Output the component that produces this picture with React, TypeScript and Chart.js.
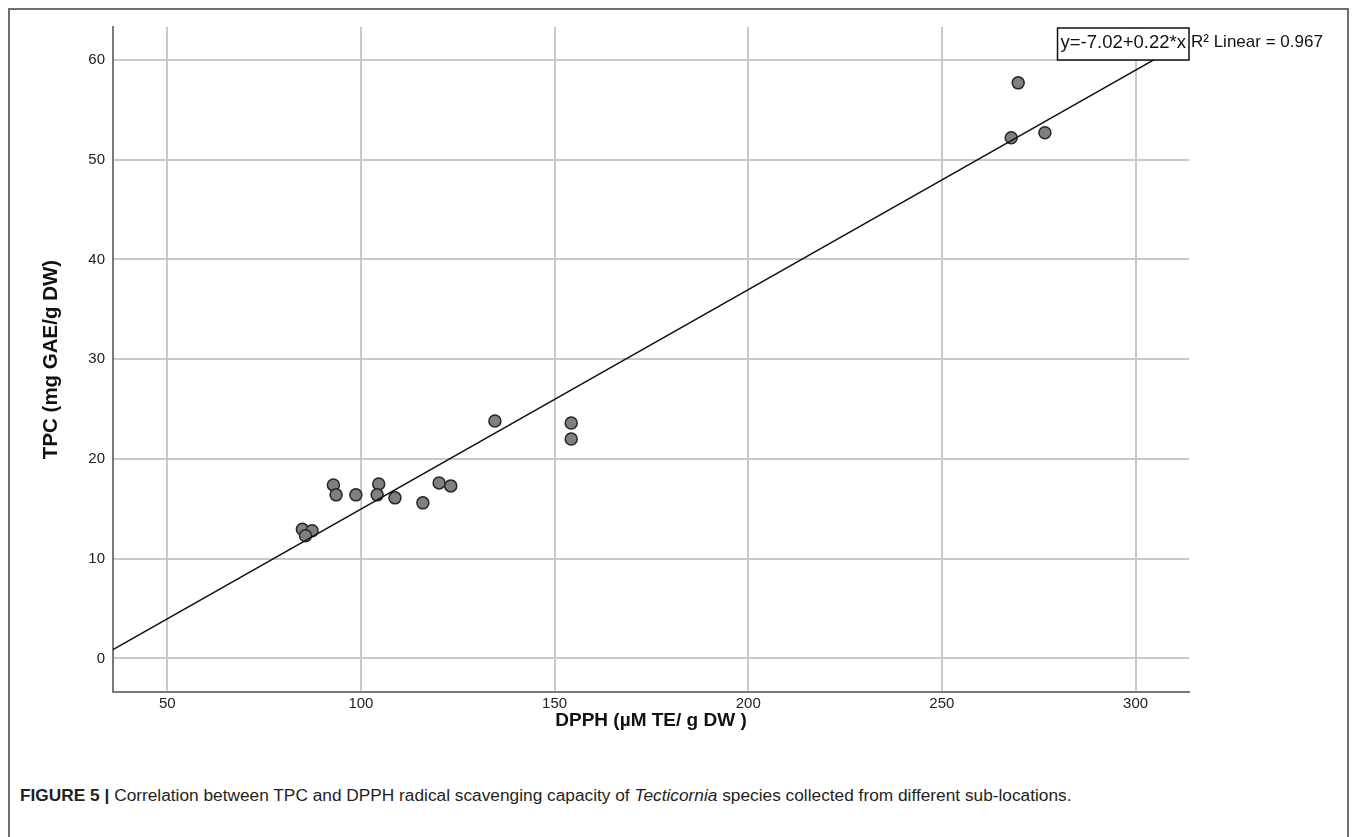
import React, { useEffect, useRef } from "react";
import { Chart, registerables } from "chart.js";

Chart.register(...registerables);

// ---- data ----
const dpphValues = [84.9, 87.4, 85.7, 92.9, 93.6, 98.7, 104.6, 104.2, 108.8, 116.0, 120.2, 123.2, 134.6, 154.3, 154.3, 269.7, 267.9, 276.6];
const tpcValues = [12.95, 12.8, 12.3, 17.4, 16.4, 16.4, 17.5, 16.4, 16.1, 15.6, 17.6, 17.3, 23.8, 23.6, 22.0, 57.7, 52.2, 52.7];
const fitIntercept = -7.02;
const fitSlope = 0.22;
const fitRSquared = 0.967;
const xTickValues = [50, 100, 150, 200, 250, 300];
const yTickValues = [0, 10, 20, 30, 40, 50, 60];
const xRange = [36, 313.8];
const yRange = [-3.36, 63.3];
const xTitle = "DPPH (µM TE/ g DW )";
const yTitle = "TPC (mg GAE/g DW)";

const FONT = '"Liberation Sans", Arial, Helvetica, sans-serif';

const equationBox = {
  id: "equationBox",
  afterDatasetsDraw(chart: any) {
    const { ctx, chartArea } = chart;
    ctx.save();
    const eq = `y=${fitIntercept.toFixed(2)}+${fitSlope.toFixed(2)}*x`;
    ctx.font = `18.5px ${FONT}`;
    const tw = ctx.measureText(eq).width;
    const w = tw + 6;
    const h = 32;
    const bx = chartArea.right - w;
    const by = chartArea.top + 1;
    ctx.fillStyle = "#ffffff";
    ctx.fillRect(bx, by, w, h);
    ctx.strokeStyle = "#111111";
    ctx.lineWidth = 1.5;
    ctx.strokeRect(bx, by, w, h);
    ctx.fillStyle = "#111111";
    ctx.textBaseline = "alphabetic";
    ctx.textAlign = "left";
    ctx.fillText(eq, bx + 3, by + 20);
    ctx.font = `17px ${FONT}`;
    ctx.fillText(`R² Linear = ${fitRSquared.toFixed(3)}`, chartArea.right + 2, by + 19);
    ctx.restore();
  },
};

export default function App() {
  const canvasRef = useRef<HTMLCanvasElement | null>(null);

  useEffect(() => {
    const canvas = canvasRef.current;
    if (!canvas) return;
    const points = dpphValues.map((x, i) => ({ x, y: tpcValues[i] }));
    const linePts = [
      { x: xRange[0], y: fitIntercept + fitSlope * xRange[0] },
      { x: xRange[1], y: fitIntercept + fitSlope * xRange[1] },
    ];
    const chart = new Chart(canvas, {
      type: "scatter",
      data: {
        datasets: [
          {
            type: "line",
            label: "Linear fit",
            data: linePts,
            borderColor: "#111111",
            borderWidth: 1.5,
            pointRadius: 0,
            fill: false,
            order: 0,
          } as any,
          {
            type: "scatter",
            label: "TPC vs DPPH",
            data: points,
            backgroundColor: "#808080",
            borderColor: "#262626",
            borderWidth: 1.5,
            pointRadius: 6,
            order: 1,
          },
        ],
      },
      options: {
        responsive: false,
        animation: false,
        layout: { padding: { left: 0, top: 16, right: 141, bottom: 0 } },
        plugins: {
          legend: { display: false },
          tooltip: { enabled: false },
        },
        scales: {
          x: {
            type: "linear",
            min: xRange[0],
            max: xRange[1],
            afterBuildTicks: (s: any) => {
              s.ticks = xTickValues.map((v) => ({ value: v }));
            },
            afterFit: (s: any) => {
              s.height = 58;
            },
            grid: { color: "#c9c9c9", lineWidth: 2, drawTicks: false },
            border: { color: "#7a7a7a", width: 2 },
            ticks: { padding: 3, color: "#222222", font: { size: 15, family: FONT } },
            title: {
              display: true,
              text: xTitle,
              color: "#111111",
              font: { size: 19, weight: "bold", family: FONT },
              padding: { top: 0, bottom: 18 },
            },
          },
          y: {
            type: "linear",
            min: yRange[0],
            max: yRange[1],
            afterBuildTicks: (s: any) => {
              s.ticks = yTickValues.map((v) => ({ value: v }));
            },
            afterFit: (s: any) => {
              s.width = 103;
            },
            grid: { color: "#c9c9c9", lineWidth: 2, drawTicks: false },
            border: { color: "#7a7a7a", width: 2 },
            ticks: { padding: 8, color: "#222222", font: { size: 15, family: FONT } },
            title: {
              display: true,
              text: yTitle,
              color: "#111111",
              font: { size: 20.5, weight: "bold", family: FONT },
              padding: { top: 29, bottom: 0 },
            },
          },
        },
      },
      plugins: [equationBox],
    } as any);
    return () => chart.destroy();
  }, []);

  return (
    <div
      style={{
        position: "fixed",
        left: 8,
        top: 8,
        width: 1341,
        height: 840,
        boxSizing: "border-box",
        border: "2px solid #6f6f6f",
        borderBottom: "none",
        background: "#ffffff",
        fontFamily: FONT,
      }}
    >
      <canvas
        ref={canvasRef}
        width={1320}
        height={740}
        style={{ position: "absolute", left: 0, top: 0, width: 1320, height: 740 }}
      />
      <div
        style={{
          position: "absolute",
          left: 10,
          top: 775,
          fontSize: 17.3,
          color: "#231f20",
          whiteSpace: "nowrap",
        }}
      >
        <b>FIGURE 5 |</b> Correlation between TPC and DPPH radical scavenging capacity of{" "}
        <i>Tecticornia</i> species collected from different sub-locations.
      </div>
    </div>
  );
}
